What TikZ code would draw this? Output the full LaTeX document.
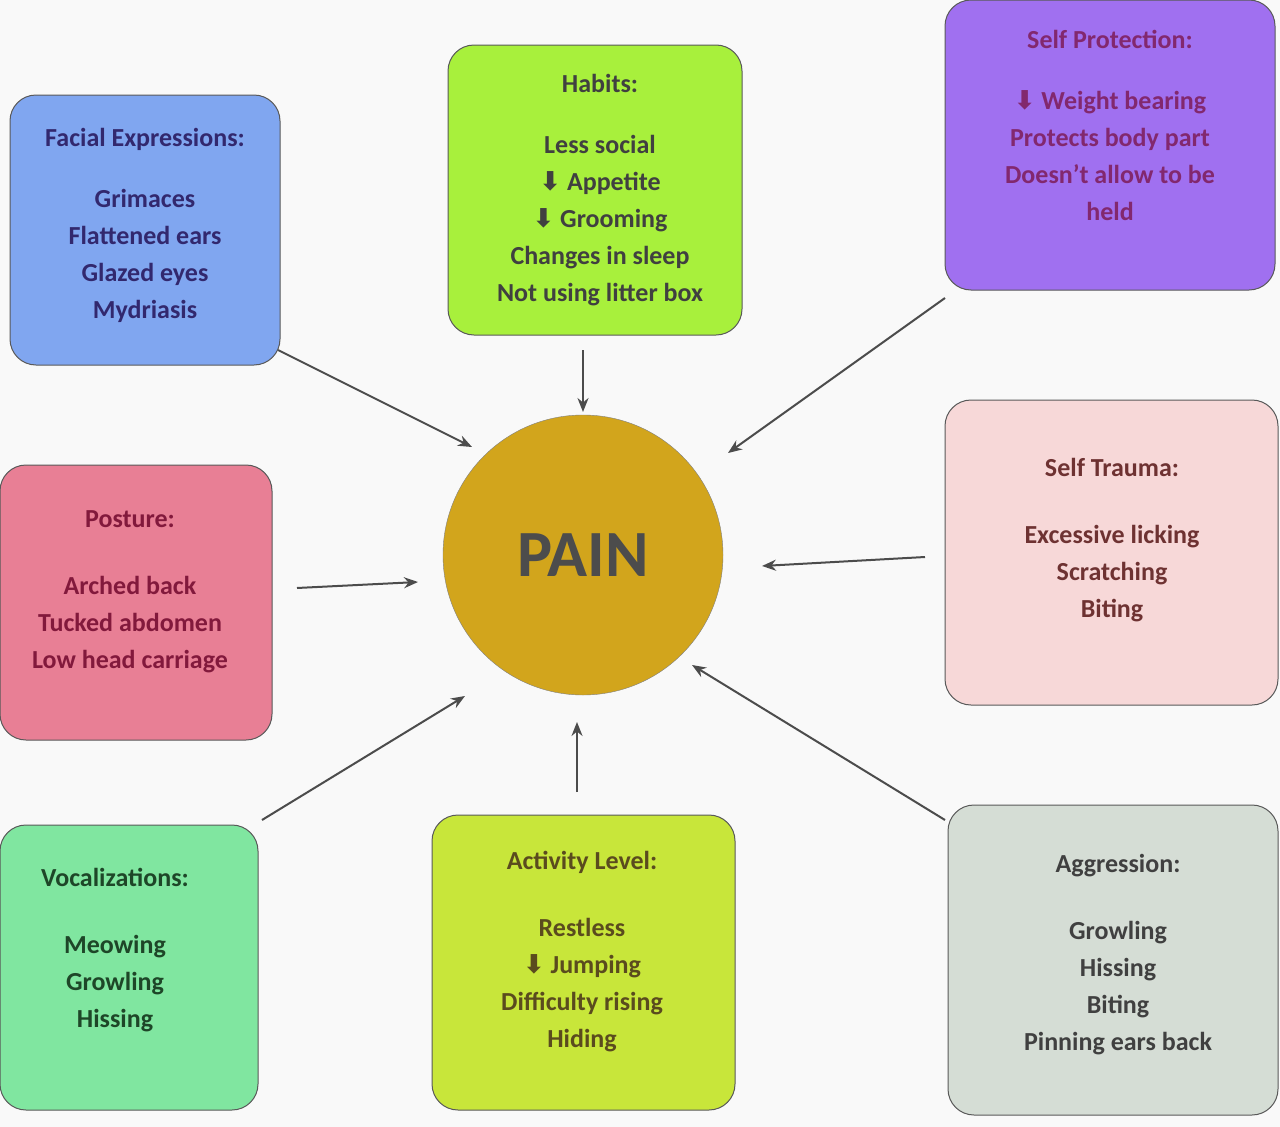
\documentclass[tikz,border=0pt]{standalone}
\usepackage{fontspec}
\setmainfont{Carlito}
\newfontfamily\sym{DejaVu Sans}
\usetikzlibrary{arrows.meta}
\begin{document}
\begin{tikzpicture}[x=1pt,y=-1pt,
 box/.style={draw=gray!70!black,line width=1pt,rounded corners=26pt,anchor=north west,align=center},
 txt/.style={align=center,font=\bfseries\fontsize{26}{37}\selectfont},
 arr/.style={-{Stealth[length=14pt,width=11pt]},line width=2pt,draw=black!70}]
\useasboundingbox (0,0) rectangle (1280,1127);
\fill[white!95!gray] (0,0) rectangle (1280,1127);
\def\dn{{\sym\char"2B07}}
% boxes
\filldraw[box,fill={rgb,255:red,128;green,166;blue,240}] (10,95) rectangle (280,365);
\node[txt,text={rgb,255:red,50;green,40;blue,110}] (fe) at (145,225) {Facial Expressions:\\[24pt] Grimaces\\Flattened ears\\Glazed eyes\\Mydriasis};
\filldraw[box,fill={rgb,255:red,168;green,240;blue,60}] (448,45) rectangle (742,335);
\node[txt,text=black!75] (ha) at (600,190) {Habits:\\[24pt] Less social\\\dn\ Appetite\\\dn\ Grooming\\Changes in sleep\\Not using litter box};
\filldraw[box,fill={rgb,255:red,160;green,112;blue,240}] (945,0) rectangle (1275,290);
\node[txt,text={rgb,255:red,130;green,40;blue,110}] (sp) at (1110,125) {Self Protection:\\[24pt] \dn\ Weight bearing\\Protects body part\\Doesn't allow to be\\held};
\filldraw[box,fill={rgb,255:red,232;green,127;blue,149}] (0,465) rectangle (272,740);
\node[txt,text={rgb,255:red,130;green,25;blue,60}] (po) at (130,592) {Posture:\\[30pt] Arched back\\Tucked abdomen\\Low head carriage};
\filldraw[box,fill={rgb,255:red,247;green,216;blue,216}] (945,400) rectangle (1278,705);
\node[txt,text={rgb,255:red,110;green,50;blue,50}] (st) at (1112,540) {Self Trauma:\\[30pt] Excessive licking\\Scratching\\Biting};
\filldraw[box,fill={rgb,255:red,128;green,230;blue,160}] (0,825) rectangle (258,1110);
\node[txt,text={rgb,255:red,30;green,70;blue,40}] (vo) at (115,950) {Vocalizations:\\[30pt] Meowing\\Growling\\Hissing};
\filldraw[box,fill={rgb,255:red,200;green,230;blue,58}] (432,815) rectangle (735,1110);
\node[txt,text={rgb,255:red,90;green,75;blue,30}] (ac) at (582,952) {Activity Level:\\[30pt] Restless\\\dn\ Jumping\\Difficulty rising\\Hiding};
\filldraw[box,fill={rgb,255:red,213;green,221;blue,213}] (948,805) rectangle (1278,1115);
\node[txt,text=black!75] (ag) at (1118,955) {Aggression:\\[30pt] Growling\\Hissing\\Biting\\Pinning ears back};
% center
\node[circle,minimum size=280pt,fill={rgb,255:red,210;green,165;blue,28},draw=black!50,text=black!70,font=\bfseries\fontsize{66}{70}\selectfont] (pain) at (583,555) {PAIN};
% arrow coordinates
\coordinate (a1) at (278,350); \coordinate (b1) at (472,447);
\coordinate (a2) at (583,350); \coordinate (b2) at (583,412);
\coordinate (a3) at (945,298); \coordinate (b3) at (728,453);
\coordinate (a4) at (297,588); \coordinate (b4) at (418,582);
\coordinate (a5) at (925,557); \coordinate (b5) at (762,566);
\coordinate (a6) at (262,820); \coordinate (b6) at (465,696);
\coordinate (a7) at (577,792); \coordinate (b7) at (577,722);
\coordinate (a8) at (945,820); \coordinate (b8) at (692,665);
\foreach \i in {1,...,8} \draw[arr] (a\i) -- (b\i);
\end{tikzpicture}
\end{document}
